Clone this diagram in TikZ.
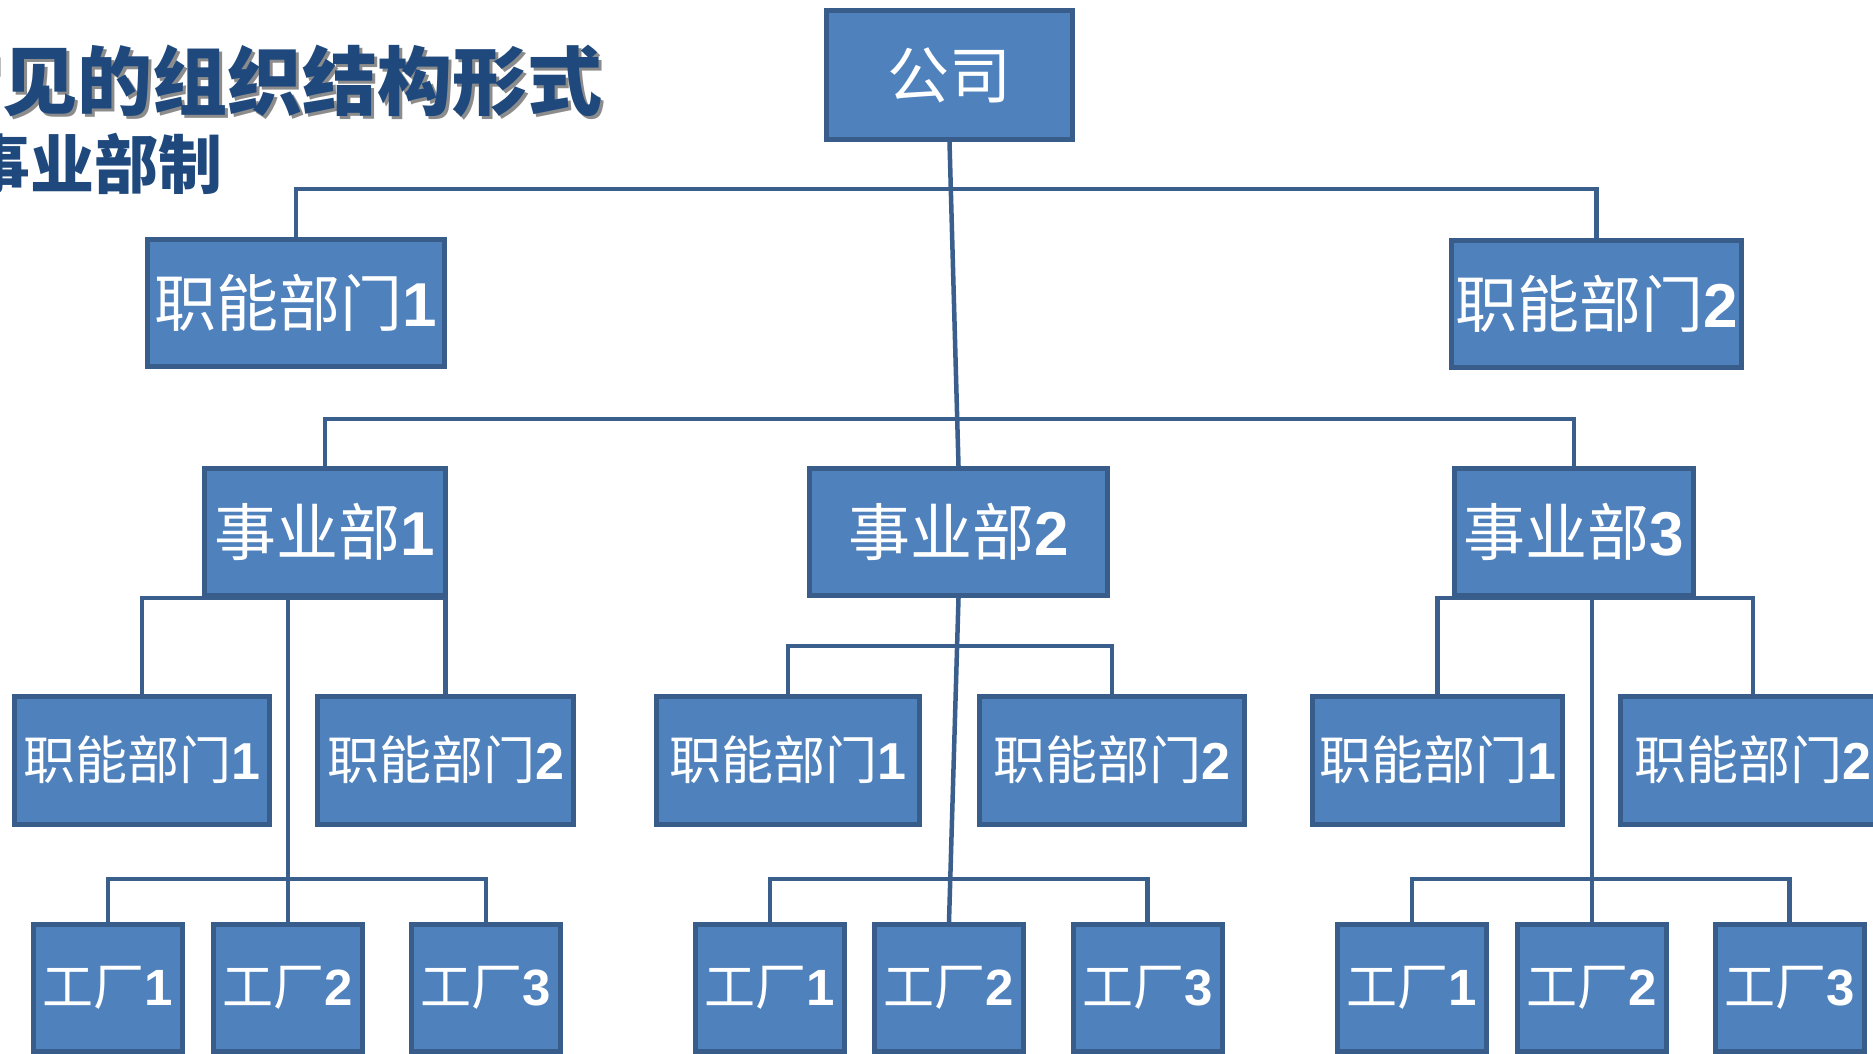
\documentclass[tikz,border=0pt]{standalone}
\usepackage{fontspec}
\newfontfamily\cjk{Noto Sans CJK SC}
\newfontfamily\digf{Liberation Sans}
\usetikzlibrary{backgrounds}
\definecolor{boxc}{HTML}{4F81BD}
\definecolor{bordc}{HTML}{385D8A}
\definecolor{linec}{HTML}{3B5F8C}
\definecolor{titlec}{HTML}{1F497D}
\newcommand{\bxt}[2]{{\cjk #1}{\digf\bfseries #2}}
\tikzset{
  box/.style={draw=bordc, fill=boxc, line width=5pt, inner sep=0pt, text=white, minimum width=#1},
  big/.style={font=\fontsize{62}{62}\selectfont, minimum height=127pt},
  mid/.style={font=\fontsize{52}{52}\selectfont, minimum height=128pt},
  sml/.style={font=\fontsize{51}{51}\selectfont, minimum height=127pt},
  conn/.style={draw=linec, line width=4.5pt}
}
\begin{document}
\begin{tikzpicture}[x=1pt, y=-1pt]
\useasboundingbox (0,0) rectangle (1873,1054);
\clip (0,0) rectangle (1873,1054);
% title
\node[anchor=base west, inner sep=0pt, font=\fontsize{75}{75}\selectfont\bfseries, text=black!75, opacity=0.6] (titlesh) at (-70,113) {\cjk 常见的组织结构形式};
\node[anchor=base west, inner sep=0pt, font=\fontsize{75}{75}\selectfont\bfseries, text=titlec] (title) at (-73,110) {\cjk 常见的组织结构形式};
\node[anchor=base west, inner sep=0pt, font=\fontsize{64}{64}\selectfont\bfseries, text=titlec] (subtitle) at (-34,188) {\cjk 事业部制};
% boxes
\node[box=246pt, big, minimum height=129pt, font=\fontsize{62}{62}\selectfont] (gs) at (949.5,75) {\bxt{公司}{}};
\node[box=297pt, big] (zn1) at (296,303) {\bxt{职能部门}{1}};
\node[box=290pt, big] (zn2) at (1596.5,304) {\bxt{职能部门}{2}};
\node[box=241pt, big] (sy1) at (325,532) {\bxt{事业部}{1}};
\node[box=298pt, big] (sy2) at (958.5,532) {\bxt{事业部}{2}};
\node[box=239pt, big] (sy3) at (1574,532) {\bxt{事业部}{3}};
\node[box=255pt, mid] (a1) at (142,760) {\bxt{职能部门}{1}};
\node[box=256pt, mid] (a2) at (445.5,760) {\bxt{职能部门}{2}};
\node[box=263pt, mid] (b1) at (788,760) {\bxt{职能部门}{1}};
\node[box=265pt, mid] (b2) at (1112,760) {\bxt{职能部门}{2}};
\node[box=250pt, mid] (c1) at (1437.5,760) {\bxt{职能部门}{1}};
\node[box=265pt, mid] (c2) at (1753,760) {\bxt{职能部门}{2}};
\node[box=149pt, sml] (fa1) at (108,988) {\bxt{工厂}{1}};
\node[box=149pt, sml] (fa2) at (288,988) {\bxt{工厂}{2}};
\node[box=149pt, sml] (fa3) at (486,988) {\bxt{工厂}{3}};
\node[box=149pt, sml] (fb1) at (770,988) {\bxt{工厂}{1}};
\node[box=149pt, sml] (fb2) at (949,988) {\bxt{工厂}{2}};
\node[box=149pt, sml] (fb3) at (1147.5,988) {\bxt{工厂}{3}};
\node[box=149pt, sml] (fc1) at (1412,988) {\bxt{工厂}{1}};
\node[box=149pt, sml] (fc2) at (1592,988) {\bxt{工厂}{2}};
\node[box=149pt, sml] (fc3) at (1789.5,988) {\bxt{工厂}{3}};
\coordinate (jt) at (0,189);
\coordinate (jm) at (0,419);
\coordinate (jb) at (0,646);
\coordinate (jf) at (0,879);
\begin{scope}[on background layer]
\fill[white] (0,0) rectangle (1873,1054);
\draw[conn] (zn1.north) -- (zn1.north |- jt) -- (zn2.north |- jt) -- (zn2.north);
\draw[conn] (gs.south) -- (sy2.north);
\draw[conn] (sy1.north) -- (sy1.north |- jm) -- (sy3.north |- jm) -- (sy3.north);
\draw[conn] (a1.north) -- (a1.north |- sy1.south) -- (a2.north |- sy1.south) -- (a2.north);
\draw[conn] (fa2.north |- sy1.south) -- (fa2.north);
\draw[conn] (fa1.north) -- (fa1.north |- jf) -- (fa3.north |- jf) -- (fa3.north);
\draw[conn] (b1.north) -- (b1.north |- jb) -- (b2.north |- jb) -- (b2.north);
\draw[conn] (sy2.south) -- (fb2.north);
\draw[conn] (fb1.north) -- (fb1.north |- jf) -- (fb3.north |- jf) -- (fb3.north);
\draw[conn] (c1.north) -- (c1.north |- sy3.south) -- (c2.north |- sy3.south) -- (c2.north);
\draw[conn] (fc2.north |- sy3.south) -- (fc2.north);
\draw[conn] (fc1.north) -- (fc1.north |- jf) -- (fc3.north |- jf) -- (fc3.north);
\end{scope}
\end{tikzpicture}
\end{document}
